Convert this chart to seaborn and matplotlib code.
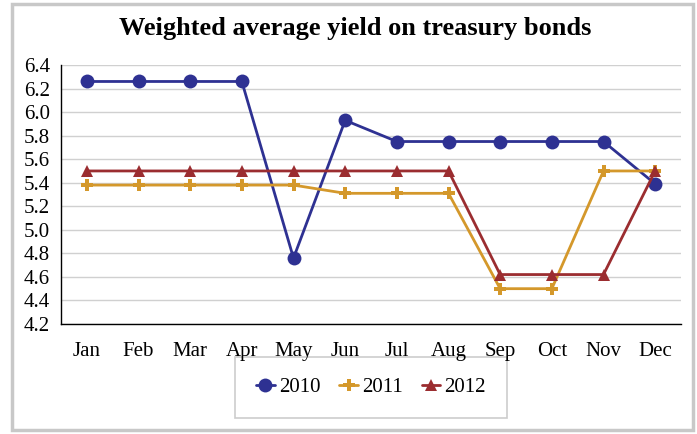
import matplotlib
matplotlib.use("Agg")
import matplotlib.pyplot as plt
import pandas as pd
import seaborn as sns
from matplotlib.patches import Rectangle

months = ["Jan", "Feb", "Mar", "Apr", "May", "Jun",
          "Jul", "Aug", "Sep", "Oct", "Nov", "Dec"]
y2010 = [6.26, 6.26, 6.26, 6.26, 4.76, 5.93, 5.75, 5.75, 5.75, 5.75, 5.75, 5.39]
y2011 = [5.38, 5.38, 5.38, 5.38, 5.38, 5.31, 5.31, 5.31, 4.50, 4.50, 5.50, 5.50]
y2012 = [5.50, 5.50, 5.50, 5.50, 5.50, 5.50, 5.50, 5.50, 4.62, 4.62, 4.62, 5.50]
yticks = [4.2, 4.4, 4.6, 4.8, 5.0, 5.2, 5.4, 5.6, 5.8, 6.0, 6.2, 6.4]

sns.set_theme(style="whitegrid")
plt.rcParams["font.family"] = ["Liberation Serif", "DejaVu Serif"]
plt.rcParams["text.color"] = "black"

frames = []
for year, vals in [("2010", y2010), ("2011", y2011), ("2012", y2012)]:
    frames.append(pd.DataFrame({"month": months, "value": vals, "year": year}))
data = pd.concat(frames, ignore_index=True)
data["x"] = data["month"].map({m: i for i, m in enumerate(months)})

palette = {"2010": "#2E3192", "2011": "#D4982B", "2012": "#9B2D30"}
markers = {"2010": "o", "2011": "P", "2012": "^"}
sizes = {"2010": 10, "2011": 8, "2012": 8}

fig = plt.figure(figsize=(6.97, 4.34), dpi=100)
ax = fig.add_axes([61 / 697, 1 - 324 / 434, 620 / 697, 259 / 434])
ax.patch.set_alpha(0)

sns.lineplot(data=data, x="x", y="value", hue="year", style="year",
             palette=palette, markers=markers, dashes=False, linewidth=2,
             markersize=9, markeredgewidth=0, ax=ax, legend=False, sort=False)
for line, year in zip(ax.lines, ["2010", "2011", "2012"]):
    line.set_markersize(sizes[year])

ax.set_xlim(-0.5, 11.5)
ax.set_ylim(4.2, 6.4)
ax.set_xticks(range(len(months)))
ax.set_xticklabels(months)
ax.set_yticks(yticks)
ax.set_yticklabels([f"{t:.1f}" for t in yticks])
ax.set_xlabel("")
ax.set_ylabel("")
ax.grid(axis="x", visible=False)
ax.grid(axis="y", color="#d0d0d0", linewidth=1)
ax.tick_params(axis="both", labelsize=15, length=0, colors="black")
ax.tick_params(axis="x", pad=13)
ax.tick_params(axis="y", pad=8)
for side in ["top", "right"]:
    ax.spines[side].set_visible(False)
for side in ["left", "bottom"]:
    ax.spines[side].set_color("black")
    ax.spines[side].set_linewidth(1)

handles = [plt.Line2D([], [], color=palette[y], marker=markers[y], markersize=sizes[y],
                      markeredgewidth=0, linewidth=2, label=y)
           for y in ["2010", "2011", "2012"]]
leg = fig.legend(handles=handles, loc="center", ncol=3,
                 bbox_to_anchor=(371 / 697, 1 - 387.5 / 434), fontsize=15,
                 frameon=True, fancybox=False, handlelength=0.9, handletextpad=0.2,
                 columnspacing=0.9, borderpad=1.0, borderaxespad=0)
leg.get_frame().set_edgecolor("#c0c0c0")
leg.get_frame().set_linewidth(1.2)
leg.set_zorder(-1)

fig.text(355 / 697, 1 - 28 / 434, "Weighted average yield on treasury bonds",
         ha="center", va="center", fontsize=19, fontweight="bold")

fig.patches.append(Rectangle((12 / 697, 4 / 434), 681 / 697, 426 / 434,
                             transform=fig.transFigure, fill=False,
                             edgecolor="#c8c8c8", linewidth=2.5))

fig.savefig("out.png", dpi=100)
